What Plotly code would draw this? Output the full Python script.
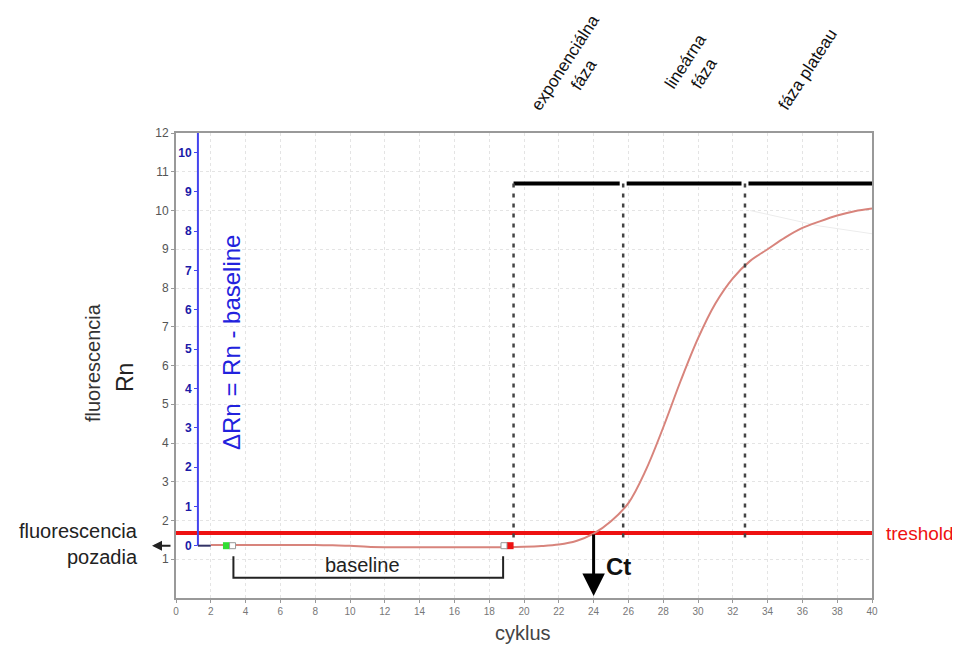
import plotly.graph_objects as go

# ---- data ----
cycles = list(range(2, 41))
rn = [1.37, 1.37, 1.37, 1.37, 1.37, 1.37, 1.37, 1.36, 1.35, 1.32,
      1.31, 1.31, 1.31, 1.31, 1.31, 1.31, 1.31, 1.31, 1.32, 1.34,
      1.38, 1.47, 1.66, 1.98, 2.45, 3.30, 4.40, 5.60, 6.70, 7.60,
      8.25, 8.70, 9.00, 9.30, 9.55, 9.72, 9.87, 9.98, 10.05]
faint_x = [33, 35, 37, 40]
faint_y = [10.0, 9.8, 9.6, 9.4]

x_ticks = list(range(0, 41, 2))
y_ticks = list(range(1, 13))
d_ticks = list(range(0, 11))

threshold = 1.68
ct = 24
background = 1.35
delta_x = 1.26
phase_bounds = [19.4, 25.7, 32.7, 40]
phase_level = 10.7
phase_labels = ["exponenciálna<br>fáza", "lineárna<br>fáza", "fáza plateau"]
baseline_start, baseline_end = 3.3, 18.8
start_marker = 2.9
end_marker = 19.2

FONT = "Arial"
fig = go.Figure()

# faint background curve
fig.add_trace(go.Scatter(x=faint_x, y=faint_y, mode="lines",
                         line=dict(color="#ececec", width=1), hoverinfo="skip"))

# threshold
fig.add_trace(go.Scatter(x=[0, 40], y=[threshold, threshold], mode="lines",
                         line=dict(color="#ee1111", width=4), hoverinfo="skip"))

# amplification curve
fig.add_trace(go.Scatter(x=cycles, y=rn, mode="lines",
                         line=dict(color="#d8847c", width=2, shape="spline"),
                         hoverinfo="skip"))

# delta Rn blue line
fig.add_trace(go.Scatter(x=[delta_x, delta_x], y=[background, 12], mode="lines",
                         line=dict(color="#4444ee", width=2), hoverinfo="skip"))
fig.add_trace(go.Scatter(x=[delta_x, 2.0], y=[background, background], mode="lines",
                         line=dict(color="#333366", width=2), hoverinfo="skip"))

# phase bars and dashed dividers
for i in range(3):
    x0 = phase_bounds[i] + (0.0 if i == 0 else 0.2)
    x1 = phase_bounds[i + 1] - (0.2 if i < 2 else 0.0)
    fig.add_trace(go.Scatter(x=[x0, x1], y=[phase_level, phase_level], mode="lines",
                             line=dict(color="black", width=4), hoverinfo="skip"))
for xb in phase_bounds[:3]:
    fig.add_trace(go.Scatter(x=[xb, xb], y=[phase_level, 1.42], mode="lines",
                             line=dict(color="#444444", width=2.5, dash="4px,6px"),
                             hoverinfo="skip"))

# baseline bracket
fig.add_trace(go.Scatter(x=[baseline_start, baseline_start, baseline_end, baseline_end],
                         y=[1.08, 0.52, 0.52, 1.08], mode="lines",
                         line=dict(color="#222222", width=2), hoverinfo="skip"))

# baseline markers
fig.add_trace(go.Scatter(x=[start_marker, end_marker], y=[background, background],
                         mode="markers",
                         marker=dict(symbol="square", size=7,
                                     color=["#33dd33", "#ee1111"]),
                         hoverinfo="skip"))
fig.add_trace(go.Scatter(x=[start_marker + 0.35, end_marker - 0.35],
                         y=[background, background], mode="markers",
                         marker=dict(symbol="square", size=6, color="white",
                                     line=dict(color="#999999", width=1)),
                         hoverinfo="skip"))

# secondary (delta Rn) axis - invisible trace to activate axis
fig.add_trace(go.Scatter(x=[None], y=[None], yaxis="y2", showlegend=False))


def txt(x, y, text, size, color="#222222", angle=0, xanchor="center",
        yanchor="middle", weight="normal"):
    return dict(x=x, y=y, xref="paper", yref="paper", text=text, showarrow=False,
                textangle=angle, xanchor=xanchor, yanchor=yanchor,
                font=dict(size=size, color=color, family=FONT, weight=weight))


W, H = 696.0, 465.0


def px(xp):
    return (xp - 176) / W


def py(yp):
    return (598 - yp) / H


annotations = []
# Ct arrow
annotations.append(dict(x=ct, y=0.05, ax=ct, ay=threshold, xref="x", yref="y",
                        axref="x", ayref="y", showarrow=True, arrowhead=2,
                        arrowsize=1.5, arrowwidth=3, arrowcolor="black", text=""))
annotations.append(txt(px(618), py(566), "Ct", 24, "#111111", weight="bold"))
# baseline label
annotations.append(txt(px(362), py(565), "baseline", 20, "#222222"))
# background fluorescence arrow
annotations.append(dict(x=px(152), y=background, xref="paper", yref="y",
                        ax=20, ay=0, showarrow=True, arrowhead=2,
                        arrowsize=1, arrowwidth=2, arrowcolor="#222222", text=""))
annotations.append(txt(px(140), py(531), "fluorescencia", 20, "#222222",
                       xanchor="right"))
annotations.append(txt(px(140), py(557), "pozadia", 20, "#222222",
                       xanchor="right"))
# threshold label
annotations.append(txt(px(884), py(533), "treshold", 19, "#ee1111",
                       xanchor="left"))
# y title
annotations.append(txt(px(93), py(363), "fluorescencia", 20, "#333333", angle=-90))
annotations.append(txt(px(125), py(378), "Rn", 23, "#222222", angle=-90))
# delta Rn label
annotations.append(txt(px(231), py(343), "ΔRn = Rn - baseline", 24, "#2222dd",
                       angle=-90))
# x title
annotations.append(txt(px(523), py(633), "cyklus", 20, "#444444"))
# phase labels
phase_pos = [(575, 69), (695, 68), (808, 70)]
for lab, (xp, yp) in zip(phase_labels, phase_pos):
    annotations.append(txt(px(xp), py(yp), lab, 17, "#111111", angle=-57))

fig.update_layout(
    width=952, height=637,
    margin=dict(l=168, r=88, t=125, b=47),
    plot_bgcolor="white", paper_bgcolor="white",
    showlegend=False,
    font=dict(family=FONT),
    xaxis=dict(range=[0, 40], tickvals=x_ticks, ticktext=[str(v) for v in x_ticks],
               tickfont=dict(size=10, color="#777777"),
               showgrid=True, gridcolor="#e4e4e4", griddash="dot", gridwidth=1,
               showline=True, linecolor="#999999", linewidth=2, mirror=True,
               ticks="outside", ticklen=3, tickcolor="#999999", zeroline=False),
    yaxis=dict(range=[0, 12], tickvals=y_ticks, ticktext=[str(v) for v in y_ticks],
               tickfont=dict(size=12, color="#555555"),
               showgrid=True, gridcolor="#e4e4e4", griddash="dot", gridwidth=1,
               showline=True, linecolor="#999999", linewidth=2, mirror=True,
               ticks="outside", ticklen=3, tickcolor="#999999", zeroline=False),
    yaxis2=dict(overlaying="y", side="left", anchor="free", position=px(197),
                range=[-1.33, 10.5], tickvals=d_ticks,
                ticktext=[str(v) for v in d_ticks],
                tickfont=dict(size=12, color="#1a1aa8", family=FONT, weight="bold"),
                ticks="outside", ticklen=3, tickcolor="#4444ee",
                showgrid=False, showline=False, zeroline=False),
    annotations=annotations,
)

fig.write_html("out.html")
